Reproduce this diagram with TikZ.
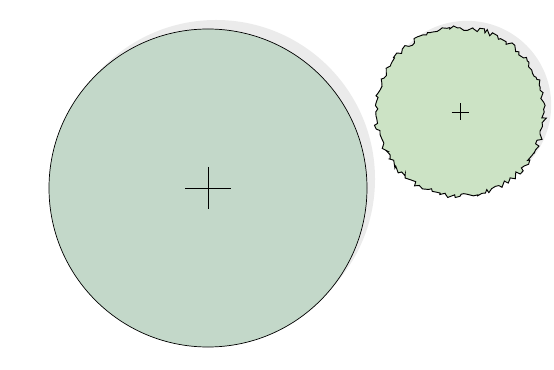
\documentclass[tikz,border=0pt]{standalone}
\usepackage{xcolor}
\usepackage{tikz}
\usetikzlibrary{positioning, calc, decorations.pathmorphing}

\definecolor{treegreen}{HTML}{C3D8C9}
\definecolor{shrubgreen}{HTML}{CCE3C5}
\definecolor{shadowgray}{HTML}{EBEBEB}

\begin{document}
\begin{tikzpicture}[
            x=0.03cm, y=-0.03cm,
            crown/.style={circle, draw=black, inner sep=0pt, line width=0.6pt},
            tree crown/.style={crown, fill=treegreen, minimum size=9.54cm},
            shrub crown/.style={crown, fill=shrubgreen, minimum size=5.05cm, line width=0.8pt,
                decorate, decoration={random steps, segment length=2.6pt, amplitude=2.1pt}},
            crown shadow/.style={circle, fill=shadowgray, inner sep=0pt},
            marker/.style={draw=black, line width=0.6pt}
        ]
        \useasboundingbox (0,0) rectangle (554,370);
        \pgfmathsetseed{7}

        % Shadows
        \node[crown shadow, minimum size=9.54cm] (treeShadow) at (216,179) {};
        \node[crown shadow, minimum size=5.05cm] (shrubShadow) at (467,105) {};

        % Tree
        \node[tree crown] (tree) at (208,188) {};
        \draw[marker] (tree.center) ++(-23,0) -- ++(46,0);
        \draw[marker] (tree.center) ++(0,-21) -- ++(0,42);

        % Shrub
        \node[shrub crown] (shrub) at (460,112) {};
        \draw[marker] (shrub.center) ++(-8.5,0) -- ++(17,0);
        \draw[marker] (shrub.center) ++(0,-8.5) -- ++(0,17);
        \end{tikzpicture}
\end{document}
